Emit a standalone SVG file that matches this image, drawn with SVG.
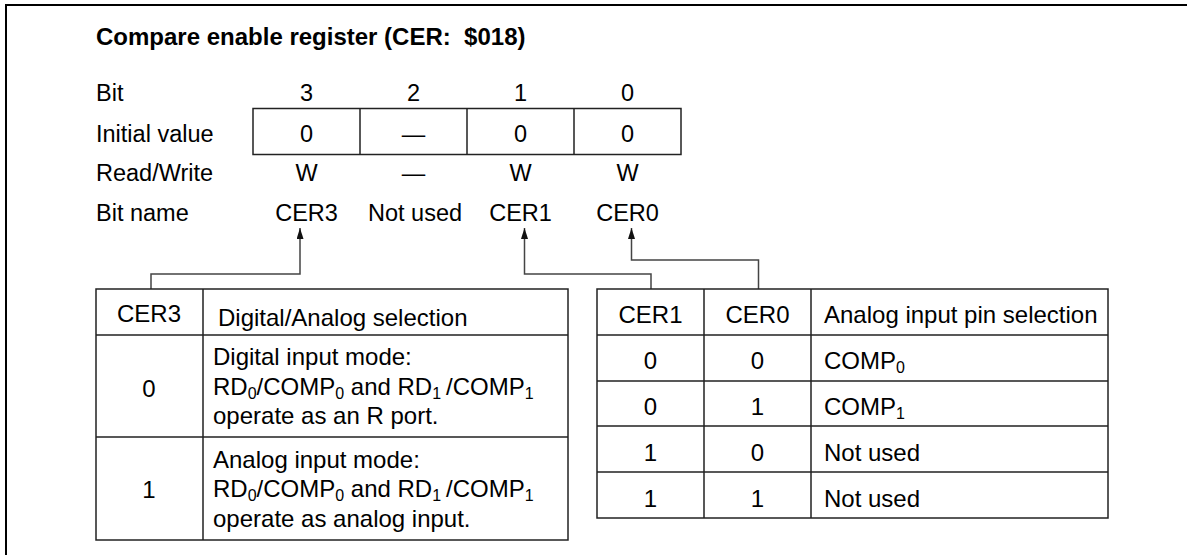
<svg xmlns="http://www.w3.org/2000/svg" width="1187" height="555" viewBox="0 0 1187 555">
<defs>
<style>
text{font-family:"Liberation Sans",Arial,sans-serif;font-size:24px;fill:#000}
.title{font-weight:bold;font-size:24px}
.up{font-size:23.5px}
.c{text-anchor:middle}
.sub{font-size:16px}
.ln{fill:none;stroke:#222;stroke-width:1.5}
.cn{fill:none;stroke:#444;stroke-width:1.5}
</style>
<marker id="ah" viewBox="0 0 11 7" refX="11" refY="3.5" markerWidth="11" markerHeight="7" markerUnits="userSpaceOnUse" orient="auto">
<path d="M0,0 L11,3.5 L0,7 z" fill="#111"/>
</marker>
</defs>
<rect width="1187" height="555" fill="#fff"/>
<path d="M6,555 V5 H1187" fill="none" stroke="#000" stroke-width="2"/>
<text id="title" class="title" x="96" y="45">Compare enable register (CER:&#160; $018)</text>

<g id="register">
<text class="up" x="96" y="101">Bit</text>
<text class="up" x="96" y="142">Initial value</text>
<text class="up" x="96" y="181">Read/Write</text>
<text class="up" x="96" y="221">Bit name</text>
<text class="up c" x="306.5" y="101">3</text>
<text class="up c" x="413.5" y="101">2</text>
<text class="up c" x="520.5" y="101">1</text>
<text class="up c" x="627.5" y="101">0</text>
<rect class="ln" x="253" y="108.5" width="428" height="46"/>
<path class="ln" d="M360,108.5 V154.5 M467,108.5 V154.5 M574,108.5 V154.5"/>
<text class="up c" x="306.5" y="142">0</text>
<text class="up c" x="413.5" y="142">—</text>
<text class="up c" x="520.5" y="142">0</text>
<text class="up c" x="627.5" y="142">0</text>
<text class="up c" x="306.5" y="181">W</text>
<text class="up c" x="413.5" y="181">—</text>
<text class="up c" x="520.5" y="181">W</text>
<text class="up c" x="627.5" y="181">W</text>
<text class="up c" x="306.5" y="221">CER3</text>
<text class="up c" x="415" y="221">Not used</text>
<text class="up c" x="520.5" y="221">CER1</text>
<text class="up c" x="627.5" y="221">CER0</text>
</g>

<g id="connectors">
<path class="cn" d="M151,289 V274 H300 V228" marker-end="url(#ah)"/>
<path class="cn" d="M651,289 V274 H524.5 V228" marker-end="url(#ah)"/>
<path class="cn" d="M758.5,289 V260 H631.5 V228" marker-end="url(#ah)"/>
</g>

<g id="cer3-table">
<rect class="ln" x="96" y="289" width="472" height="251"/>
<path class="ln" d="M203,289 V540 M96,335 H568 M96,437 H568"/>
<text class="c" x="149" y="322">CER3</text>
<text x="218" y="326">Digital/Analog selection</text>
<text class="c" x="149" y="397">0</text>
<text x="213" y="365">Digital input mode:</text>
<text x="213" y="395">RD<tspan class="sub" dy="4">0</tspan><tspan dy="-4">/COMP</tspan><tspan class="sub" dy="4">0</tspan><tspan dy="-4"> and RD</tspan><tspan class="sub" dy="4">1</tspan><tspan dy="-4" dx="5">/COMP</tspan><tspan class="sub" dy="4">1</tspan></text>
<text x="213" y="424">operate as an R port.</text>
<text class="c" x="149" y="498">1</text>
<text x="213" y="468">Analog input mode:</text>
<text x="213" y="497">RD<tspan class="sub" dy="4">0</tspan><tspan dy="-4">/COMP</tspan><tspan class="sub" dy="4">0</tspan><tspan dy="-4"> and RD</tspan><tspan class="sub" dy="4">1</tspan><tspan dy="-4" dx="5">/COMP</tspan><tspan class="sub" dy="4">1</tspan></text>
<text x="213" y="527">operate as analog input.</text>
</g>

<g id="cer10-table">
<rect class="ln" x="597" y="289" width="511" height="229"/>
<path class="ln" d="M704,289 V518 M811,289 V518 M597,335 H1108 M597,381 H1108 M597,426 H1108 M597,472 H1108"/>
<text class="c" x="650.5" y="323">CER1</text>
<text class="c" x="757.5" y="323">CER0</text>
<text x="824" y="323">Analog input pin selection</text>
<text class="c" x="650.5" y="369">0</text>
<text class="c" x="757.5" y="369">0</text>
<text x="824" y="369">COMP<tspan class="sub" dy="4">0</tspan></text>
<text class="c" x="650.5" y="415">0</text>
<text class="c" x="757.5" y="415">1</text>
<text x="824" y="415">COMP<tspan class="sub" dy="4">1</tspan></text>
<text class="c" x="650.5" y="461">1</text>
<text class="c" x="757.5" y="461">0</text>
<text x="824" y="461">Not used</text>
<text class="c" x="650.5" y="507">1</text>
<text class="c" x="757.5" y="507">1</text>
<text x="824" y="507">Not used</text>
</g>
</svg>
